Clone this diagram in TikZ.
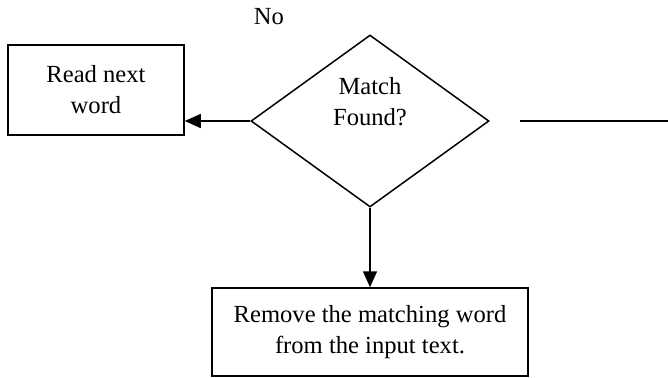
\documentclass[tikz,border=0pt]{standalone}
\usepackage{fontspec}
\setmainfont{Liberation Serif}
\usetikzlibrary{shapes.geometric, positioning, arrows.meta}

\begin{document}
\begin{tikzpicture}
	[x=0.5pt, y=-0.5pt, line width=0.75pt, >={Triangle[length=8pt,width=7pt]},
	 font=\fontsize{12.3}{15.5}\selectfont,
	 box/.style={draw, rectangle, align=center, inner sep=0pt},
	 test/.style={draw, diamond, align=center, inner sep=0pt,
	   minimum width=119pt, minimum height=86pt}]
   \useasboundingbox (0,0) rectangle (668,377);
   \node[box, minimum width=88pt, minimum height=45pt] (read) at (96,90) {Read next\\word};
   \node[test] (match) at (370,121) {Match\\Found?\\[4pt]};
   \node[box, minimum width=158pt, minimum height=44pt] (remove) at (370,332)
     {Remove the matching word\\from the input text.};
   \node (no) at (269,17) {No};
   \coordinate (yes_a) at (520,121);
   \coordinate (yes_b) at (668,121);
    \path[->]
    (match.west)  edge (match.west -| read.east)
    (match.south) edge (match.south |- remove.north);
    \draw (yes_a) -- (yes_b);
\end{tikzpicture}
\end{document}
